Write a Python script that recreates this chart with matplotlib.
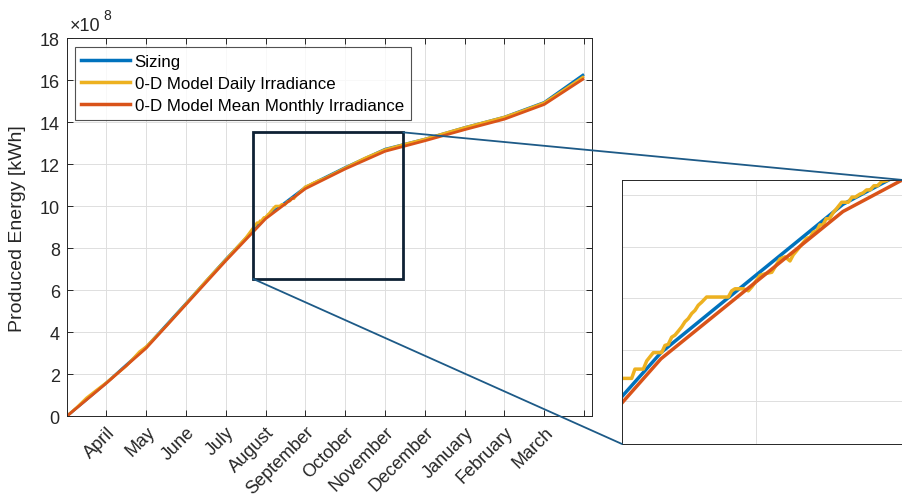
import matplotlib.pyplot as plt
from matplotlib.patches import Rectangle, ConnectionPatch
from matplotlib.transforms import ScaledTranslation

plt.rcParams['font.family'] = ['Liberation Sans', 'DejaVu Sans']

# MATLAB default line colours
C_SIZING = '#0072BD'
C_DAILY = '#EDB120'
C_MONTHLY = '#D95319'

months = ['April', 'May', 'June', 'July', 'August', 'September', 'October',
          'November', 'December', 'January', 'February', 'March']

# cumulative produced energy [x1e8 kWh], x in months from start of simulation
month_x = [0, 1, 2, 3, 4, 5, 6, 7, 8, 9, 10, 11, 12, 12.97]
sizing = [0, 1.60, 3.30, 5.38, 7.48, 9.47, 10.91, 11.85, 12.72, 13.20,
          13.75, 14.25, 14.95, 16.25]
mean_monthly = [0, 1.58, 3.25, 5.33, 7.41, 9.41, 10.84, 11.78, 12.62, 13.12,
                13.65, 14.15, 14.85, 16.05]

# daily irradiance run, denser around August/September
daily_x = [0, 0.25, 0.5, 0.75, 1, 1.5, 1.83, 2, 2.5, 3, 3.5, 4, 4.5,
           4.784, 4.839, 4.857, 4.903, 4.922, 4.958, 5.004, 5.022, 5.040, 5.059,
           5.077, 5.096, 5.114, 5.132, 5.150, 5.169, 5.187, 5.205, 5.224, 5.251,
           5.370, 5.389, 5.407, 5.453, 5.480, 5.500, 5.544, 5.581, 5.609, 5.654,
           5.682, 5.709, 5.727, 5.746, 5.801, 5.820, 5.837, 5.855, 5.873, 5.890,
           5.908, 5.925, 5.947, 5.966, 5.993, 6.029, 6.050, 6.068, 6.094, 6.110,
           6.130, 6.150, 6.170, 6.190, 6.213, 6.240, 6.300,
           6.5, 7, 7.5, 8, 8.5, 9, 9.5, 10, 10.5, 11, 11.5, 12, 12.5, 12.97]
daily = [0, 0.42, 0.88, 1.25, 1.61, 2.40, 3.08, 3.32, 4.30, 5.36, 6.44, 7.46, 8.50,
         9.22, 9.22, 9.31, 9.31, 9.39, 9.47, 9.47, 9.54, 9.55, 9.62,
         9.64, 9.68, 9.72, 9.77, 9.80, 9.85, 9.88, 9.93, 9.96, 10.01,
         10.01, 10.07, 10.09, 10.09, 10.07, 10.11, 10.22, 10.24, 10.25, 10.38,
         10.40, 10.36, 10.42, 10.46, 10.58, 10.59, 10.64, 10.65, 10.71, 10.71,
         10.77, 10.77, 10.83, 10.87, 10.93, 10.93, 10.98, 10.98, 11.01, 11.02,
         11.05, 11.05, 11.09, 11.09, 11.13, 11.14, 11.20,
         11.35, 11.83, 12.30, 12.70, 12.96, 13.20, 13.48, 13.75, 14.00, 14.25,
         14.58, 14.93, 15.55, 16.15]

# highlighted box and zoom window
box_x, box_y = (4.69, 8.46), (6.54, 13.52)
zoom_x, zoom_y = (4.786, 6.330), (8.583, 11.146)

W, H = 903, 502
fig = plt.figure(figsize=(W / 100, H / 100), dpi=100)
ax = fig.add_axes([66.7 / W, 1 - 417.3 / H, (592 - 66.7) / W, (417.3 - 39.3) / H])

def matlab_axes(a):
    for s in a.spines.values():
        s.set_color('#262626')
        s.set_linewidth(0.7)
    a.grid(True, color='#dedede', linewidth=0.7)
    a.set_axisbelow(True)

matlab_axes(ax)
ax.plot(month_x, sizing, color=C_SIZING, lw=2, label='Sizing')
ax.plot(daily_x, daily, color=C_DAILY, lw=2, label='0-D Model Daily Irradiance')
ax.plot(month_x, mean_monthly, color=C_MONTHLY, lw=2,
        label='0-D Model Mean Monthly Irradiance')

ax.set_xlim(0, 13.2)
ax.set_ylim(0, 18)
ax.set_yticks(range(0, 19, 2))
ax.set_xticks(range(0, 14))
ax.set_xticklabels([''] + months + [''], rotation=45, ha='right',
                   rotation_mode='anchor')
offset = ScaledTranslation(9 / 100, 0, fig.dpi_scale_trans)
for lbl in ax.get_xticklabels():
    lbl.set_transform(lbl.get_transform() + offset)
ax.tick_params(direction='in', top=True, right=True, length=4, width=0.7,
               labelsize=13, colors='#262626', pad=5)
ax.set_ylabel('Produced Energy [kWh]', fontsize=14, color='#262626')
ax.yaxis.set_label_coords((26 - 66.7) / (592 - 66.7), 0.5)

fig.text(70 / W, 1 - 31 / H, '×10', fontsize=13, color='#262626')
fig.text(103 / W, 1 - 20 / H, '8', fontsize=10, color='#262626')

leg = ax.legend(loc='upper left', bbox_to_anchor=(0.015, 0.977), fontsize=12.2,
                frameon=True, fancybox=False, handlelength=2.9,
                handletextpad=0.25, labelspacing=0.42, borderpad=0.4,
                borderaxespad=0)
leg.get_frame().set_edgecolor('#262626')
leg.get_frame().set_linewidth(0.8)
for h in leg.get_lines():
    h.set_linewidth(2.5)

ax.add_patch(Rectangle((box_x[0], box_y[0]), box_x[1] - box_x[0], box_y[1] - box_y[0],
                       fill=False, ec='#0e2134', lw=2, zorder=5))

# zoomed view
ax_in = fig.add_axes([622 / W, 57 / H, 281 / W, 264 / H])
matlab_axes(ax_in)
ax_in.spines['right'].set_visible(False)
ax_in.plot(month_x, sizing, color=C_SIZING, lw=2.5)
ax_in.plot(daily_x, daily, color=C_DAILY, lw=2.5)
ax_in.plot(month_x, mean_monthly, color=C_MONTHLY, lw=2.5)
ax_in.set_xlim(*zoom_x)
ax_in.set_ylim(*zoom_y)
ax_in.set_xticks([5.52])
ax_in.set_yticks([9, 9.5, 10, 10.5, 11])
ax_in.tick_params(length=0, labelbottom=False, labelleft=False)

for xa, ya, xb, yb in [(box_x[1], box_y[1], 1, 1), (box_x[0], box_y[0], 0, 0)]:
    con = ConnectionPatch(xyA=(xa, ya), coordsA=ax.transData,
                          xyB=(xb, yb), coordsB=ax_in.transAxes,
                          color='#1d5a87', lw=1.3, zorder=10)
    fig.add_artist(con)

fig.savefig('out.png', dpi=100)
